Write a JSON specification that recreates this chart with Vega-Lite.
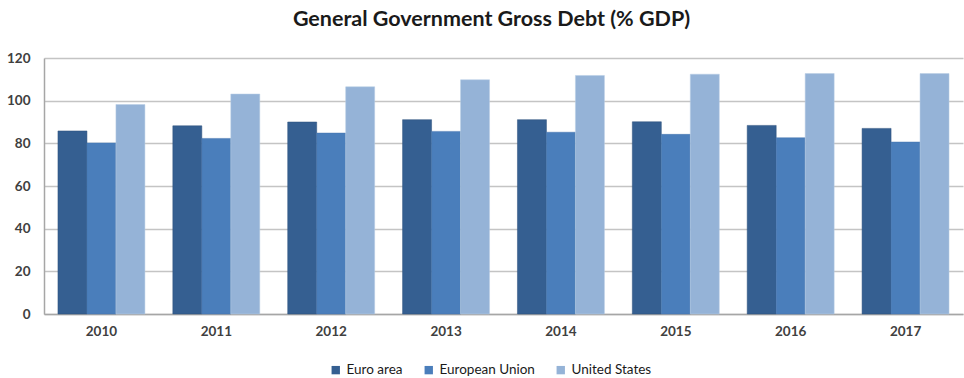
{
  "$schema": "https://vega.github.io/schema/vega-lite/v6.json",
  "width": 919,
  "height": 256,
  "autosize": {"type": "none"},
  "padding": {"left": 44, "top": 58, "right": 1, "bottom": 64},
  "background": "white",
  "title": {
    "text": "General Government Gross Debt (% GDP)",
    "font": "Lato",
    "fontSize": 21.5,
    "fontWeight": "bold",
    "color": "#1a1a1a",
    "anchor": "middle",
    "frame": "group",
    "dx": -12,
    "offset": 21
  },
  "data": {
    "values": [
      {"year": "2010", "series": "Euro area", "value": 85.8},
      {"year": "2010", "series": "European Union", "value": 80.2},
      {"year": "2010", "series": "United States", "value": 98.2},
      {"year": "2011", "series": "Euro area", "value": 88.2},
      {"year": "2011", "series": "European Union", "value": 82.3},
      {"year": "2011", "series": "United States", "value": 103.1},
      {"year": "2012", "series": "Euro area", "value": 90.0},
      {"year": "2012", "series": "European Union", "value": 84.8},
      {"year": "2012", "series": "United States", "value": 106.5},
      {"year": "2013", "series": "Euro area", "value": 91.1},
      {"year": "2013", "series": "European Union", "value": 85.6},
      {"year": "2013", "series": "United States", "value": 109.8},
      {"year": "2014", "series": "Euro area", "value": 91.1},
      {"year": "2014", "series": "European Union", "value": 85.2},
      {"year": "2014", "series": "United States", "value": 111.8},
      {"year": "2015", "series": "Euro area", "value": 90.1},
      {"year": "2015", "series": "European Union", "value": 84.2},
      {"year": "2015", "series": "United States", "value": 112.4},
      {"year": "2016", "series": "Euro area", "value": 88.4},
      {"year": "2016", "series": "European Union", "value": 82.6},
      {"year": "2016", "series": "United States", "value": 112.7},
      {"year": "2017", "series": "Euro area", "value": 87.0},
      {"year": "2017", "series": "European Union", "value": 80.6},
      {"year": "2017", "series": "United States", "value": 112.7}
    ]
  },
  "mark": {"type": "bar", "strokeWidth": 1, "strokeOpacity": 0.5},
  "encoding": {
    "x": {
      "field": "year",
      "type": "nominal",
      "title": null,
      "scale": {"paddingInner": 0.243, "paddingOuter": 0.1215},
      "axis": {
        "labelAngle": 0,
        "labelFont": "Lato",
        "labelFontSize": 13.5,
        "labelFontWeight": "bold",
        "labelColor": "#404040",
        "labelPadding": 10,
        "ticks": false,
        "domainColor": "#a6a6a6",
        "domainWidth": 1.5,
        "grid": false
      }
    },
    "xOffset": {"field": "series", "type": "nominal", "scale": {"paddingInner": 0, "paddingOuter": 0}},
    "y": {
      "field": "value",
      "type": "quantitative",
      "title": null,
      "scale": {"domain": [0, 120], "nice": false},
      "axis": {
        "values": [0, 20, 40, 60, 80, 100, 120],
        "labelFont": "Lato",
        "labelFontSize": 13.5,
        "labelFontWeight": "bold",
        "labelColor": "#404040",
        "labelPadding": 14,
        "ticks": false,
        "domainColor": "#a6a6a6",
        "domainWidth": 1.5,
        "grid": true,
        "gridColor": "#c4c4c4",
        "gridWidth": 1.5
      }
    },
    "color": {
      "field": "series",
      "type": "nominal",
      "scale": {
        "domain": ["Euro area", "European Union", "United States"],
        "range": ["#355F91", "#4A7EBB", "#95B3D7"]
      },
      "legend": {
        "title": null,
        "orient": "none",
        "direction": "horizontal",
        "legendX": 285,
        "legendY": 305,
        "symbolType": "square",
        "symbolSize": 70,
        "symbolStrokeWidth": 0,
        "labelFont": "Lato",
        "labelFontSize": 13.5,
        "labelColor": "#1a1a1a",
        "labelOffset": 4,
        "columnPadding": 19
      }
    },
    "stroke": {
      "field": "series",
      "type": "nominal",
      "scale": {
        "domain": ["Euro area", "European Union", "United States"],
        "range": ["#2c507c", "#4576b0", "#b8cde6"]
      },
      "legend": null
    }
  },
  "config": {"view": {"stroke": null}}
}
